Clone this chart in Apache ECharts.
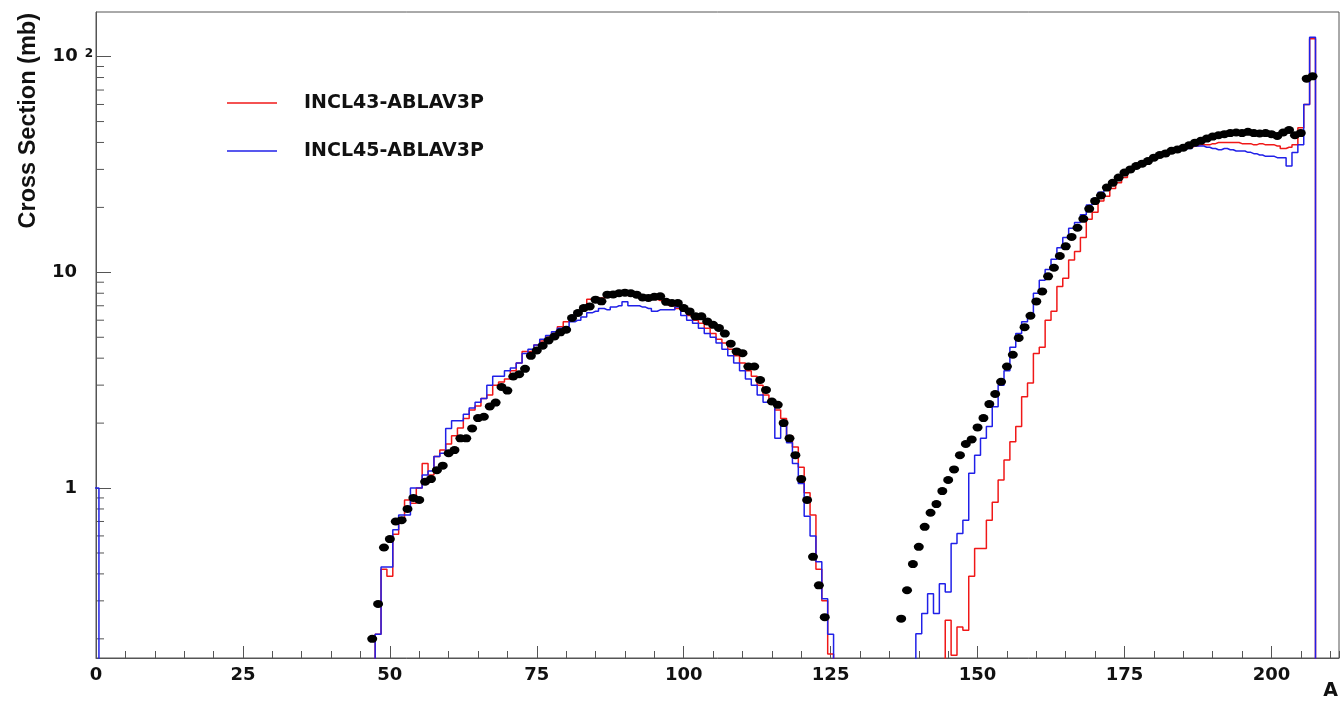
<!DOCTYPE html>
<html>
<head>
<meta charset="utf-8">
<script src="https://cdn.jsdelivr.net/npm/echarts@6/dist/echarts.min.js"></script>
<style>
html,body{margin:0;padding:0;background:#fff;}
#chart{width:1343px;height:701px;}
</style>
</head>
<body>
<div id="chart"></div>
<script>
// ---------------- data (mass number A -> cross section, mb) ----------------
const seriesNames = ['INCL43-ABLAV3P', 'INCL45-ABLAV3P'];
const xTickValues = [0, 25, 50, 75, 100, 125, 150, 175, 200];
const yTickLabels = {1: '1', 10: '10', 100: '10²'};
const yMinorTickValues = [0.2,0.3,0.4,0.5,0.6,0.7,0.8,0.9,2,3,4,5,6,7,8,9,20,30,40,50,60,70,80,90];

// experimental points
const expFissionStart = 47;
const expFission = [0.20,0.29,0.53,0.58,0.70,0.71,0.80,0.90,0.88,1.07,
  1.10,1.21,1.27,1.45,1.50,1.70,1.70,1.89,2.11,2.14,
  2.39,2.49,2.94,2.83,3.29,3.37,3.57,4.10,4.34,4.57,
  4.83,5.04,5.27,5.42,6.14,6.48,6.83,6.95,7.47,7.34,
  7.88,7.90,8.00,8.05,8.00,7.88,7.65,7.61,7.70,7.75,
  7.30,7.21,7.21,6.83,6.59,6.25,6.25,5.92,5.71,5.52,
  5.20,4.67,4.30,4.22,3.66,3.66,3.17,2.85,2.52,2.43,
  2.00,1.70,1.42,1.10,0.88,0.48,0.354,0.252];
const expSpallStart = 137;
const expSpall = [0.248,0.336,0.444,0.534,0.661,0.768,0.843,0.968,1.09,1.22,
  1.42,1.60,1.68,1.91,2.11,2.45,2.73,3.11,3.66,4.15,
  4.96,5.57,6.29,7.33,8.16,9.58,10.5,11.9,13.2,14.6,
  16.1,17.7,19.7,21.4,22.7,24.7,26.0,27.5,29.0,30.0,
  31.1,31.9,32.8,34.0,35.0,35.6,36.6,37.1,37.8,38.8,
  39.9,40.7,41.7,42.6,43.2,43.7,44.2,44.5,44.2,44.8,
  44.2,44.0,44.2,43.7,42.9,44.5,45.7,43.2,44.2,79,
  81];

// INCL43-ABLAV3P histogram
const incl43FissionStart = 48;
const incl43Fission = [0.21,0.42,0.39,0.61,0.72,0.88,0.85,1.0,1.3,1.15,
  1.4,1.5,1.6,1.75,1.9,2.1,2.3,2.4,2.6,2.7,
  3.0,3.1,3.2,3.5,3.8,4.3,4.3,4.6,4.8,5.0,
  5.2,5.6,5.9,6.2,6.6,7.0,7.5,7.6,7.6,7.7,
  7.8,7.9,8.0,7.8,7.7,7.6,7.5,7.5,7.4,7.2,
  7.0,6.8,6.6,6.3,6.0,5.8,5.5,5.2,4.9,4.7,
  4.4,4.1,3.8,3.5,3.3,3.0,2.7,2.5,2.3,2.1,
  1.75,1.55,1.25,0.95,0.75,0.42,0.30,0.17];
const incl43SpallStart = 145;
const incl43Spall = [0.244,0.168,0.227,0.219,0.39,0.525,0.525,0.71,0.86,1.09,
  1.35,1.64,1.93,2.65,3.07,4.2,4.5,6.0,6.6,8.6,
  9.4,11.4,12.5,14.5,17.6,19.0,21.4,22.5,24.5,26,
  27.5,29.5,30.5,31.5,32.5,33.5,34.5,35.5,36.5,37,
  37.5,38,38.5,39,39,39.5,40,40,40,40,
  39.5,39.5,39,39.5,39,39,38.5,37.5,38,39,
  46.8,60,121];

// INCL45-ABLAV3P histogram
const incl45LowStart = 0;
const incl45Low = [1];
const incl45FissionStart = 48;
const incl45Fission = [0.21,0.43,0.43,0.64,0.75,0.75,1.0,1.0,1.15,1.2,
  1.4,1.45,1.89,2.05,2.05,2.2,2.35,2.5,2.6,3.0,
  3.3,3.3,3.5,3.6,3.8,4.2,4.4,4.6,4.9,5.1,
  5.3,5.5,5.6,5.9,6.0,6.2,6.5,6.6,6.8,6.7,
  6.9,7.0,7.3,7.0,7.0,6.9,6.8,6.6,6.7,6.7,
  6.7,6.9,6.3,6.0,5.8,5.5,5.2,5.0,4.7,4.4,
  4.1,3.8,3.5,3.2,3.0,2.7,2.5,2.48,1.70,2.0,
  1.62,1.3,1.05,0.74,0.6,0.455,0.307,0.21];
const incl45SpallStart = 140;
const incl45Spall = [0.211,0.262,0.324,0.262,0.36,0.33,0.553,0.616,0.71,1.17,
  1.42,1.70,1.93,2.38,3.0,3.5,4.5,5.2,5.9,6.4,
  8.0,9.2,10.3,11.5,13.0,14.5,16.0,17.0,18.5,20.5,
  22.0,23.5,25.0,26.5,28.0,29.0,30.5,31.5,32.5,33.5,
  34.5,35.0,35.5,36.0,36.5,37.5,37.5,38.5,38.5,38.0,
  37.5,37.0,37.5,37.0,36.5,36.5,36.0,35.5,35.0,34.5,
  34.5,34.0,34.0,31.1,35.9,39.0,60,123];

// ---------------- helpers ----------------
const EMPTY = 0.01; // empty bins (below the visible range of the log axis)
function histPoints(segments) {
  const pts = [];
  segments.forEach(([start, vals]) => {
    pts.push([start - 1, EMPTY]);
    vals.forEach((v, i) => pts.push([start + i, v]));
    pts.push([start + vals.length, EMPTY]);
  });
  return pts;
}
function pointPairs(segments) {
  const pts = [];
  segments.forEach(([start, vals]) => vals.forEach((v, i) => pts.push([start + i, v])));
  return pts;
}

const FONT = 'DejaVu Sans';
const AXIS_COLOR = '#555';

const chart = echarts.init(document.getElementById('chart'), null, {renderer: 'canvas'});
chart.setOption({
  animation: false,
  backgroundColor: '#fff',
  grid: {left: 96, top: 12, right: 4, bottom: 43, show: true, borderColor: AXIS_COLOR, borderWidth: 1, containLabel: false},
  legend: {
    data: seriesNames,
    orient: 'vertical', left: 222, top: 88,
    icon: 'rect', itemWidth: 50, itemHeight: 1.5, itemGap: 28,
    selectedMode: false,
    textStyle: {fontFamily: FONT, fontWeight: 'bold', fontSize: 19, color: '#111', lineHeight: 20, padding: [0, 0, 0, 22]}
  },
  xAxis: [{
    type: 'value', min: 0, max: 211.5, interval: 25, position: 'bottom',
    name: 'A', nameLocation: 'end', nameGap: -1,
    nameTextStyle: {fontFamily: FONT, fontWeight: 'bold', fontSize: 19, color: '#111', align: 'right', verticalAlign: 'top', padding: [24, 0, 0, 0]},
    axisLine: {show: true, lineStyle: {color: AXIS_COLOR, width: 1}},
    axisTick: {show: true, inside: true, length: 12, lineStyle: {color: AXIS_COLOR}},
    splitLine: {show: false},
    axisLabel: {
      showMaxLabel: false, margin: 8,
      formatter: v => xTickValues.includes(v) ? String(v) : '',
      fontFamily: FONT, fontWeight: 'bold', fontSize: 18, color: '#111'
    }
  }, {
    type: 'value', min: 0, max: 211.5, interval: 5, position: 'bottom',
    axisLine: {show: false}, axisLabel: {show: false}, splitLine: {show: false},
    axisTick: {show: true, inside: true, length: 7, lineStyle: {color: AXIS_COLOR}}
  }],
  yAxis: {
    type: 'log', logBase: 10, min: 0.163, max: 161,
    name: 'Cross Section (mb)', nameLocation: 'end', nameRotate: 90, nameGap: -1,
    nameTextStyle: {fontFamily: 'Liberation Sans', fontWeight: 'bold', fontSize: 23.5, color: '#111', align: 'right', verticalAlign: 'bottom', padding: [0, 0, 55, 0]},
    axisLine: {show: true, lineStyle: {color: AXIS_COLOR, width: 1}},
    axisTick: {show: true, inside: true, length: 15, lineStyle: {color: AXIS_COLOR}},
    splitLine: {show: false},
    axisLabel: {
      showMinLabel: false, showMaxLabel: false, margin: 3,
      formatter: v => {
        const p = Math.round(Math.log10(v));
        const key = Math.pow(10, p);
        if (Math.abs(Math.log10(v) - p) > 1e-6 || !yTickLabels[key]) return '';
        const t = yTickLabels[key];
        return t.length === 3 ? '{b|' + t.slice(0, 2) + '}{s|' + '2' + '}' : '{n|' + t + '}';
      },
      rich: {
        n: {fontFamily: FONT, fontWeight: 'bold', fontSize: 18, color: '#111', padding: [0, 16, 0, 0]},
        b: {fontFamily: FONT, fontWeight: 'bold', fontSize: 18, color: '#111'},
        s: {fontFamily: FONT, fontWeight: 'bold', fontSize: 12, color: '#111', verticalAlign: 'top', padding: [0, 0, 0, 7]}
      }
    }
  },
  series: [
    {
      name: seriesNames[0], type: 'line', step: 'middle', showSymbol: false, symbol: 'none',
      data: histPoints([[incl43FissionStart, incl43Fission], [incl43SpallStart, incl43Spall]]),
      lineStyle: {color: '#f01818', width: 1.5}, itemStyle: {color: '#f01818'}, z: 3
    },
    {
      name: seriesNames[1], type: 'line', step: 'middle', showSymbol: false, symbol: 'none',
      data: histPoints([[incl45LowStart, incl45Low], [incl45FissionStart, incl45Fission], [incl45SpallStart, incl45Spall]]),
      lineStyle: {color: '#2020e8', width: 1.5}, itemStyle: {color: '#2020e8'}, z: 4
    },
    {
      name: 'data', type: 'scatter', symbol: 'circle', symbolSize: [10, 8],
      data: pointPairs([[expFissionStart, expFission], [expSpallStart, expSpall]]),
      itemStyle: {color: '#000', opacity: 1}, z: 5
    },
    {
      name: 'yMinorTicks', type: 'custom', silent: true, z: 2,
      data: yMinorTickValues.map(v => [0, v]),
      renderItem: (params, api) => {
        const p = api.coord([0, api.value(1)]);
        return {type: 'line', shape: {x1: p[0], y1: p[1], x2: p[0] + 8, y2: p[1]}, style: {stroke: AXIS_COLOR, lineWidth: 1}};
      }
    }
  ]
});
</script>
</body>
</html>
